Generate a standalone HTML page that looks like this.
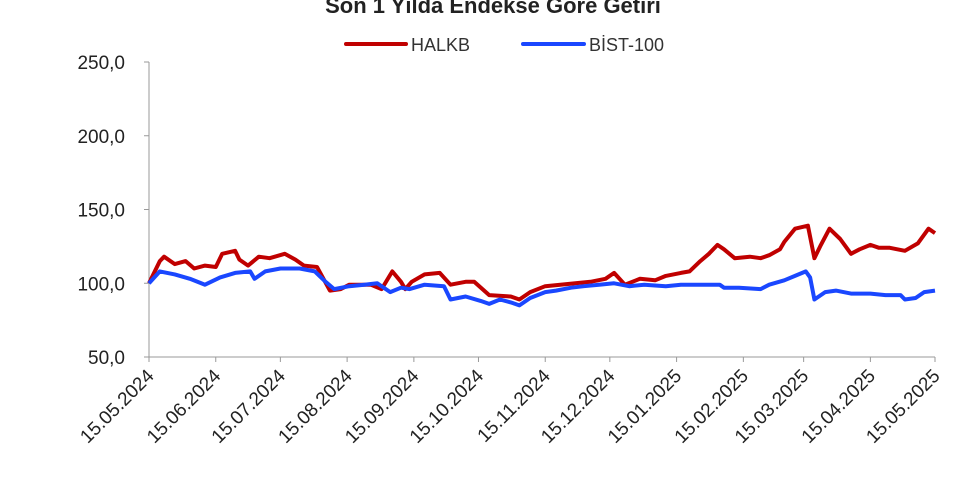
<!DOCTYPE html>
<html><head><meta charset="utf-8"><style>
html,body{margin:0;padding:0;background:#fff;}
svg{display:block;font-family:"Liberation Sans",sans-serif;}
</style></head><body>
<svg id="chart" width="960" height="494" viewBox="0 0 960 494">
<text x="493" y="13" text-anchor="middle" font-size="22" font-weight="bold" fill="#222">Son 1 Yılda Endekse Göre Getiri</text>
<g>
<line x1="346" y1="44" x2="406" y2="44" stroke="#c00000" stroke-width="4" stroke-linecap="round"/>
<text x="411" y="51" font-size="18" fill="#333">HALKB</text>
<line x1="523" y1="44" x2="584" y2="44" stroke="#1a47ff" stroke-width="4" stroke-linecap="round"/>
<text x="589" y="51" font-size="18" fill="#333">BİST-100</text>
</g>
<g id="axes"></g>
<g id="series"></g>
</svg>
<script>
const yTicks = [50, 100, 150, 200, 250];
const xTickLabels = ["15.05.2024","15.06.2024","15.07.2024","15.08.2024","15.09.2024","15.10.2024","15.11.2024","15.12.2024","15.01.2025","15.02.2025","15.03.2025","15.04.2025","15.05.2025"];
const xTickDays = [0,31,61,92,123,153,184,214,245,276,304,335,365];
const halkbDays = [0,5,7,12,17,21,26,31,34,40,42,46,51,56,63,68,72,78,84,89,93,103,108,113,117,119,122,128,135,140,147,151,158,168,172,177,184,191,198,205,212,216,221,228,235,240,247,251,256,260,264,267,272,279,284,288,293,295,300,306,309,312,316,321,326,330,335,339,344,351,357,362,365];
const halkbValues = [100,115,118,113,115,110,112,111,120,122,116,112,118,117,120,116,112,111,95,96,99,99,96,108,101,96,101,106,107,99,101,101,92,91,89,94,98,99,100,101,103,107,99,103,102,105,107,108,115,120,126,123,117,118,117,119,123,128,137,139,117,126,137,130,120,123,126,124,124,122,127,137,134];
const bistDays = [0,5,12,19,26,33,40,47,49,54,61,70,77,82,86,93,100,106,112,117,121,128,137,140,147,154,158,163,168,172,177,184,189,196,202,209,216,223,230,240,247,256,265,267,274,284,288,295,300,305,307,309,314,319,326,335,342,349,351,356,360,365];
const bistValues = [100,108,106,103,99,104,107,108,103,108,110,110,108,101,96,98,99,100,94,97,96,99,98,89,91,88,86,89,87,85,90,94,95,97,98,99,100,98,99,98,99,99,99,97,97,96,99,102,105,108,104,89,94,95,93,93,92,92,89,90,94,95];

const NS = "http://www.w3.org/2000/svg";
const X0 = 149, X1 = 935, Y0 = 357, Y1 = 62, VMIN = 50, VMAX = 250, DMAX = 365;
const xs = d => X0 + d / DMAX * (X1 - X0);
const ys = v => Y0 - (v - VMIN) / (VMAX - VMIN) * (Y0 - Y1);
function mk(tag, attrs, parent) { const e = document.createElementNS(NS, tag); for (const k in attrs) e.setAttribute(k, attrs[k]); parent.appendChild(e); return e; }
const axes = document.getElementById("axes");
let yl = mk("line", {x1: X0, y1: Y1, x2: X0, y2: Y0, stroke: "#999", "stroke-width": 1}, axes);


let xl = mk("line", {x1: X0, y1: Y0, x2: X1, y2: Y0, stroke: "#999", "stroke-width": 1}, axes);


yTicks.forEach(v => {
  const y = ys(v);
  const t = mk("line", {x1: X0 - 5, y1: y, x2: X0, y2: y, stroke: "#999"}, axes);
  
  
  const tx = mk("text", {x: X0 - 24, y: y + 7, "text-anchor": "end", "font-size": 19, fill: "#222"}, axes);
  tx.textContent = v.toFixed(1).replace(".", ",");
  
  
});
xTickDays.forEach((d, i) => {
  const x = xs(d);
  const t = mk("line", {x1: x, y1: Y0, x2: x, y2: Y0 + 5, stroke: "#999"}, axes);
  
  
  const tx = mk("text", {x: x + 6, y: Y0 + 20, "text-anchor": "end", "font-size": 19, fill: "#222", transform: `rotate(-45 ${x + 6} ${Y0 + 20})`}, axes);
  tx.textContent = xTickLabels[i];
  
  
});
const series = document.getElementById("series");
function line(days, vals, color, name) {
  const d = days.map((dd, i) => (i ? "L" : "M") + xs(dd).toFixed(1) + "," + ys(vals[i]).toFixed(1)).join(" ");
  const p = mk("path", {d: d, fill: "none", stroke: color, "stroke-width": 4, "stroke-linejoin": "round"}, series);
  
  
}
line(halkbDays, halkbValues, "#c00000", "halkb-line");
line(bistDays, bistValues, "#1a47ff", "bist100-line");
</script>
</body></html>
